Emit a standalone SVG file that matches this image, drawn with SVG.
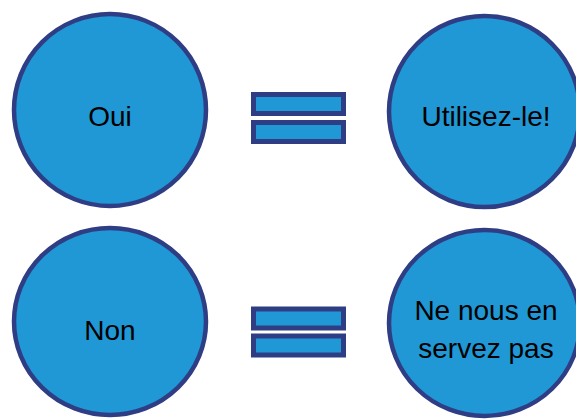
<svg xmlns="http://www.w3.org/2000/svg" width="576" height="420" viewBox="0 0 576 420">
  <style>
    .node { fill: #1F98D5; stroke: #2F3E84; stroke-width: 4.5; }
    .bar { fill: #1F98D5; stroke: #2F3E84; stroke-width: 5; }
    .label { font-family: "Liberation Sans", Arial, sans-serif; font-size: 28px; fill: #000; text-anchor: middle; }
  </style>
  <rect width="576" height="420" fill="#FFFFFF"/>
  <g id="oui">
    <ellipse class="node" cx="110" cy="110" rx="96" ry="96"/>
    <text class="label" x="110" y="125.5">Oui</text>
  </g>
  <g id="equals-top">
    <rect class="bar" x="253.5" y="94.5" width="90" height="19"/>
    <rect class="bar" x="253.5" y="122.5" width="90" height="19"/>
  </g>
  <g id="utilisez">
    <ellipse class="node" cx="484.5" cy="111.5" rx="95.5" ry="95.5"/>
    <text class="label" x="486" y="125.5">Utilisez-le!</text>
  </g>
  <g id="non">
    <ellipse class="node" cx="110" cy="321.5" rx="96" ry="93.5"/>
    <text class="label" x="110" y="339.5">Non</text>
  </g>
  <g id="equals-bottom">
    <rect class="bar" x="253.5" y="309" width="90" height="19"/>
    <rect class="bar" x="253.5" y="336" width="90" height="19"/>
  </g>
  <g id="ne-nous">
    <ellipse class="node" cx="484.5" cy="323" rx="95.5" ry="93"/>
    <text class="label" x="486" y="320">Ne nous en</text>
    <text class="label" x="486" y="357.5">servez pas</text>
  </g>
  <g id="connectors"></g>
</svg>
